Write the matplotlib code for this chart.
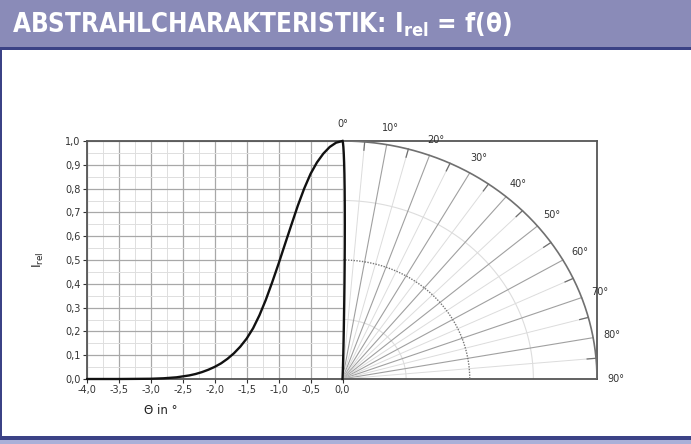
import numpy as np
import matplotlib
matplotlib.use("Agg")
import matplotlib.pyplot as plt
from matplotlib.patches import Rectangle
from matplotlib.ticker import MultipleLocator, FuncFormatter
from matplotlib import font_manager

# ---- data ----
theta_deg = [-4.0, -3.5, -3.0, -2.9, -2.8, -2.7, -2.6, -2.5, -2.4, -2.3, -2.2, -2.1,
             -2.0, -1.9, -1.8, -1.7, -1.6, -1.5, -1.4, -1.3, -1.2, -1.1, -1.0,
             -0.9, -0.8, -0.7, -0.6, -0.5, -0.4, -0.3, -0.2, -0.1, 0.0]
i_rel = [0.0, 0.0, 0.001, 0.002, 0.003, 0.005, 0.007, 0.011, 0.015, 0.021, 0.029, 0.039,
         0.051, 0.066, 0.085, 0.108, 0.136, 0.170, 0.213, 0.268, 0.333, 0.407, 0.485,
         0.567, 0.648, 0.728, 0.800, 0.862, 0.910, 0.947, 0.975, 0.993, 1.0]
x_ticks = [-4.0, -3.5, -3.0, -2.5, -2.0, -1.5, -1.0, -0.5, 0.0]
y_ticks = [0.0, 0.1, 0.2, 0.3, 0.4, 0.5, 0.6, 0.7, 0.8, 0.9, 1.0]
polar_labels = [0, 10, 20, 30, 40, 50, 60, 70, 80, 90]
circle_radii = [0.25, 0.5, 0.75, 1.0]

W, H = 691, 444
fig = plt.figure(figsize=(W / 100, H / 100), dpi=100)
fig.patch.set_facecolor("white")

# ---- header bar and frame ----
hdr = "#8a8bb8"
dark = "#3b4286"
fig.add_artist(Rectangle((0, 1 - 47 / H), 1, 47 / H, transform=fig.transFigure,
                         facecolor=hdr, edgecolor="none", zorder=0))
fig.add_artist(Rectangle((0, 1 - 50 / H), 1, 3 / H, transform=fig.transFigure,
                         facecolor=dark, edgecolor="none", zorder=1))
fig.add_artist(Rectangle((0, 4 / H), 2 / W, 1 - 54 / H, transform=fig.transFigure,
                         facecolor=dark, edgecolor="none", zorder=1))
fig.add_artist(Rectangle((0, 4 / H), 1, 4 / H, transform=fig.transFigure,
                         facecolor=dark, edgecolor="none", zorder=1))
fig.add_artist(Rectangle((0, 0), 1, 4 / H, transform=fig.transFigure,
                         facecolor="#aab0d8", edgecolor="none", zorder=1))

names = {f.name for f in font_manager.fontManager.ttflist}
cond = [f for f in font_manager.fontManager.ttflist
        if "Condensed" in f.fname and "DejaVuSans" in f.fname and "Bold" in f.fname]
if "Liberation Sans Narrow" in names:
    tfam, tsize = ["Liberation Sans Narrow", "DejaVu Sans"], 22
elif cond:
    tfam, tsize = ["DejaVu Sans"], 18.6
else:
    tfam, tsize = ["DejaVu Sans"], 16.5
fig.text(12 / W, 1 - 25 / H, r"ABSTRAHLCHARAKTERISTIK: I$_{\mathregular{rel}}$ = f(θ)",
         color="white", fontsize=tsize, fontweight="bold", fontstretch="condensed",
         va="center", ha="left", family=tfam)

# ---- cartesian axes ----
x0, x1 = 87, 342.5
yt, yb = 141, 379
xr = 597
ax = fig.add_axes([x0 / W, 1 - yb / H, (x1 - x0) / W, (yb - yt) / H])
ax.set_xlim(-4, 0)
ax.set_ylim(0, 1)
ax.xaxis.set_minor_locator(MultipleLocator(0.25))
ax.yaxis.set_minor_locator(MultipleLocator(0.05))
ax.set_xticks(x_ticks)
ax.set_yticks(y_ticks)
fmt = FuncFormatter(lambda v, p: f"{v:.1f}".replace(".", ",").replace("-0,0", "0,0"))
ax.xaxis.set_major_formatter(fmt)
ax.yaxis.set_major_formatter(fmt)
ax.grid(which="major", color="#a8a8a8", lw=0.9)
ax.grid(which="minor", color="#dedede", lw=0.7)
ax.set_axisbelow(True)
ax.tick_params(which="major", length=3, width=0.8, labelsize=7, pad=1.5, colors="#333333")
ax.tick_params(which="minor", length=0)
for s in ["left", "top", "bottom"]:
    ax.spines[s].set_color("#555555")
    ax.spines[s].set_linewidth(1.3)
ax.spines["right"].set_visible(False)
ax.plot(theta_deg, i_rel, color="#111111", lw=1.7, solid_capstyle="round",
        solid_joinstyle="round", clip_on=False, zorder=5)
ax.set_xlabel("Θ in °", fontsize=8.5, color="#222222")
ax.xaxis.set_label_coords(0.29, -0.105)
ax.set_ylabel(r"I$_{\mathregular{rel}}$", fontsize=9, color="#222222", labelpad=14)

# ---- polar quarter (drawn in its own axes, radius 1 fills the box) ----
pa = fig.add_axes([x1 / W, 1 - yb / H, (xr - x1) / W, (yb - yt) / H])
pa.set_xlim(0, 1)
pa.set_ylim(0, 1)
pa.set_xticks([])
pa.set_yticks([])
for s in ["right", "top", "bottom"]:
    pa.spines[s].set_color("#555555")
    pa.spines[s].set_linewidth(1.3)
pa.spines["left"].set_visible(False)
pa.patch.set_alpha(0)

t = np.linspace(0, np.pi / 2, 200)
for r in circle_radii:
    if r == 1.0:
        pa.plot(r * np.sin(t), r * np.cos(t), color="#707070", lw=1.2, zorder=3)
    elif r == 0.5:
        pa.plot(r * np.sin(t), r * np.cos(t), color="#777777", lw=1.0, ls=(0, (1, 1)), zorder=3)
    else:
        pa.plot(r * np.sin(t), r * np.cos(t), color="#dddddd", lw=0.8, zorder=2)
for a in range(5, 90, 5):
    ang = np.radians(a)
    if a % 10 == 0:
        pa.plot([0, np.sin(ang)], [0, np.cos(ang)], color="#a0a0a0", lw=0.8, zorder=2)
    else:
        pa.plot([0, np.sin(ang)], [0, np.cos(ang)], color="#dcdcdc", lw=0.7, zorder=2)
        pa.plot([0.965 * np.sin(ang), np.sin(ang)], [0.965 * np.cos(ang), np.cos(ang)],
                color="#707070", lw=0.9, zorder=3)

# polar plot of the same distribution (positive angles)
pth = np.radians(np.abs(np.array(theta_deg)))
pr = np.array(i_rel)
pa.plot(pr * np.sin(pth), pr * np.cos(pth), color="#111111", lw=1.7, zorder=5, clip_on=False)

for a in polar_labels:
    ang = np.radians(a)
    pa.text(1.075 * np.sin(ang), 1.07 * np.cos(ang), f"{a}°", fontsize=7, color="#333333",
            ha="center", va="center", clip_on=False)

fig.savefig("out.png", dpi=100, facecolor="white")
